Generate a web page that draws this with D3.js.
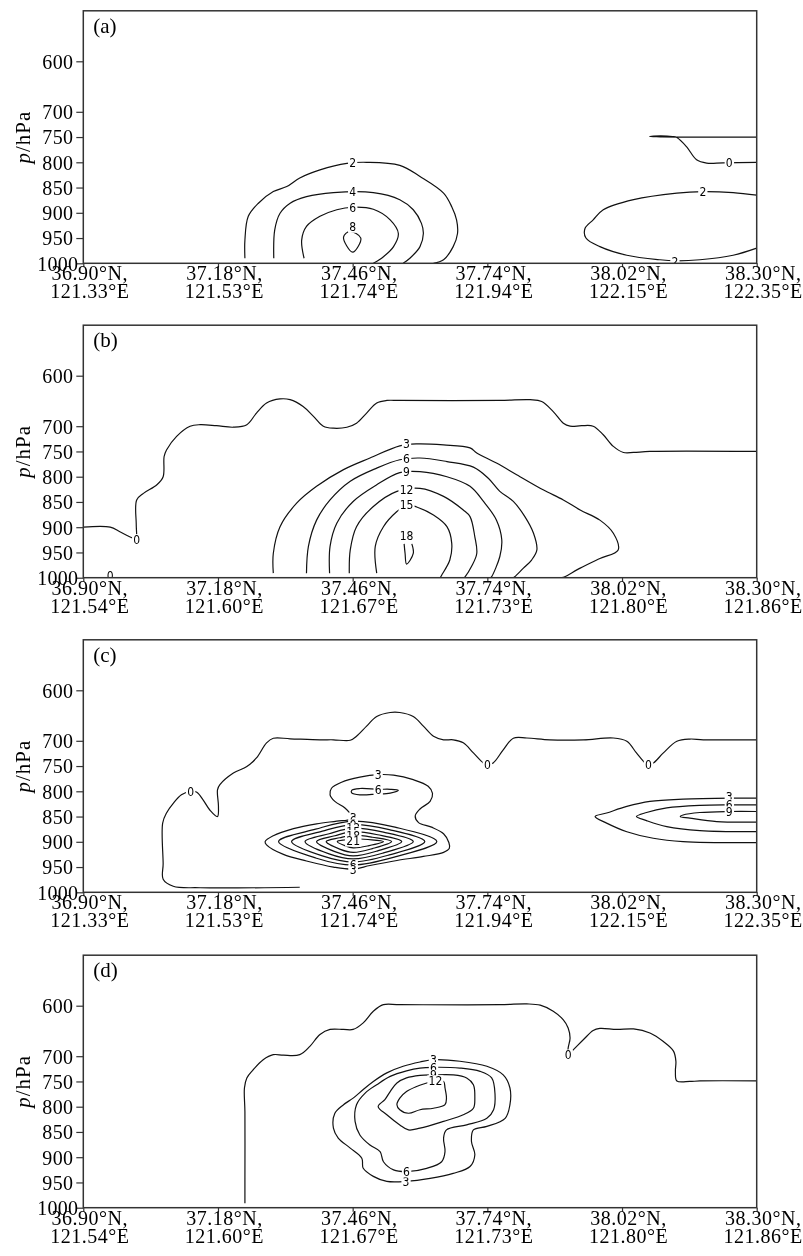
<!DOCTYPE html>
<html>
<head>
<meta charset="utf-8">
<script src="https://cdn.jsdelivr.net/npm/d3@7"></script>
<style>
  html, body { margin: 0; padding: 0; background: #fff; }
  svg { display: block; will-change: transform; }
  .serif { font-family: 'Liberation Serif', 'Times New Roman', serif; font-size: 20px; }
  .clab text { font-family: 'DejaVu Sans Condensed', 'Liberation Sans', sans-serif; font-size: 12px; }
</style>
</head>
<body>
<script>
// ---------------- DATA ----------------
const latTicks   = [36.90, 37.18, 37.46, 37.74, 38.02, 38.30];
const lonTicksAC = [121.33, 121.53, 121.74, 121.94, 122.15, 122.35];
const lonTicksBD = [121.54, 121.60, 121.67, 121.73, 121.80, 121.86];
const pTicks     = [600, 700, 750, 800, 850, 900, 950, 1000];
const panelNames = ['(a)', '(b)', '(c)', '(d)'];

// contour lines: [latitude °N, pressure hPa]
const contoursA = [
  {level: 2, pts: [[37.236,990],[37.236,954],[37.243,907],[37.264,881],[37.295,858],[37.323,848],[37.350,831],[37.392,815],[37.448,802],[37.489,800],[37.558,806],[37.600,828],[37.649,861],[37.666,888],[37.676,914],[37.678,941],[37.669,967],[37.649,993],[37.628,1000]]},
  {level: 4, pts: [[37.296,990],[37.298,934],[37.309,901],[37.330,881],[37.364,868],[37.420,860],[37.503,860],[37.558,874],[37.586,894],[37.603,921],[37.607,941],[37.600,967],[37.579,990],[37.565,1000]]},
  {level: 6, pts: [[37.359,990],[37.354,954],[37.364,927],[37.392,907],[37.427,894],[37.460,889],[37.503,893],[37.538,914],[37.555,941],[37.545,967],[37.524,987],[37.503,1000]]},
  {level: 8, closed: true, pts: [[37.441,948],[37.454,937],[37.477,950],[37.460,978]]},
  {level: 0, pts: [[38.300,750],[38.140,750],[38.100,749.5],[38.077,749],[38.100,747.5],[38.125,749],[38.134,751],[38.154,769],[38.175,795],[38.196,801.5],[38.230,801],[38.300,800]]},
  {level: 2, pts: [[38.300,865],[38.251,860],[38.188,858],[38.134,861],[38.044,874],[37.981,894],[37.960,914],[37.943,931],[37.945,950],[37.974,967],[38.030,984],[38.099,993],[38.130,995],[38.182,993],[38.251,984],[38.300,970]]}
];
const labelsA = [[37.460,800,'2'],[37.460,858,'4'],[37.460,889,'6'],[37.460,928,'8'],[38.243,800,'0'],[38.188,858,'2'],[38.130,996,'2']];

const contoursB = [
  {level: 0, pts: [[36.900,900],[36.956,900],[36.976,909],[37.001,921],[37.011,924],[37.011,916],[37.010,892],[37.011,846],[37.025,833],[37.053,816],[37.066,800],[37.068,760],[37.073,747],[37.094,720],[37.122,700],[37.143,697],[37.177,699],[37.212,702],[37.240,697],[37.260,674],[37.281,654],[37.309,646],[37.330,647.5],[37.357,661],[37.378,680],[37.399,700],[37.420,704],[37.448,702],[37.468,694],[37.489,674],[37.510,654],[37.531,649],[37.558,649],[37.766,649],[37.829,647.5],[37.853,651],[37.877,671],[37.898,694],[37.912,700],[37.936,699],[37.960,700],[37.981,717],[38.002,740],[38.023,752],[38.044,752],[38.078,750],[38.300,750]]},
  {level: 3, pts: [[37.295,991],[37.295,952],[37.309,899],[37.344,852],[37.385,819],[37.441,786],[37.496,763],[37.558,739],[37.593,735],[37.649,737],[37.704,743],[37.718,753],[37.759,773],[37.801,796],[37.856,826],[37.898,846],[37.933,866],[37.974,886],[38.002,912],[38.012,945],[37.974,962],[37.933,981],[37.901,998],[37.895,1000]]},
  {level: 6, pts: [[37.364,991],[37.368,938],[37.385,886],[37.413,846],[37.455,809],[37.510,783],[37.558,766.5],[37.600,763],[37.656,770],[37.711,781],[37.742,803],[37.766,829],[37.794,849],[37.818,879],[37.836,912],[37.843,945],[37.832,965],[37.815,981],[37.797,998],[37.794,1000]]},
  {level: 9, pts: [[37.412,991],[37.413,938],[37.427,892],[37.461,849],[37.510,816],[37.558,792],[37.600,790],[37.656,800],[37.704,819],[37.732,849],[37.759,886],[37.770,925],[37.766,958],[37.749,998],[37.747,1000]]},
  {level: 12, pts: [[37.453,991],[37.455,945],[37.468,899],[37.503,859],[37.552,829],[37.600,823],[37.649,839],[37.690,866],[37.704,879],[37.714,919],[37.718,952],[37.707,978],[37.694,998],[37.692,1000]]},
  {level: 15, pts: [[37.510,991],[37.507,938],[37.524,899],[37.552,869],[37.572,856],[37.593,860],[37.628,876],[37.656,899],[37.666,932],[37.662,965],[37.645,995],[37.642,1000]]},
  {level: 18, pts: [[37.567,933],[37.569,952],[37.572,973],[37.586,952],[37.583,933]]}
];
const labelsB = [[37.011,924,'0'],[36.956,995,'0'],[37.572,735,'3'],[37.572,765,'6'],[37.572,791,'9'],[37.572,826,'12'],[37.572,856,'15'],[37.572,917,'18']];

const contoursC = [
  {level: 0, pts: [[37.350,990],[37.143,991],[37.087,988],[37.066,974],[37.066,943],[37.065,863],[37.073,843],[37.087,824],[37.104,807],[37.123,800],[37.136,802],[37.149,817],[37.163,837],[37.179,850],[37.181,830],[37.179,797],[37.184,787],[37.212,764],[37.240,751],[37.260,734],[37.281,704],[37.295,695],[37.330,696],[37.392,698],[37.420,698],[37.455,699],[37.468,691],[37.489,671],[37.510,652],[37.538,644],[37.558,644],[37.586,652],[37.607,671],[37.628,691],[37.649,698],[37.669,698],[37.690,704],[37.711,724],[37.732,744],[37.740,747],[37.752,744],[37.773,718],[37.794,695],[37.822,694.5],[37.870,698],[37.940,698],[38.002,694.5],[38.030,701],[38.050,724],[38.068,744],[38.075,747],[38.085,744],[38.106,724],[38.134,701],[38.161,696.5],[38.189,698],[38.300,698]]},
  {level: 3, closed: true, pts: [[37.513,767],[37.545,768],[37.586,777],[37.617,790],[37.626,804],[37.621,820],[37.600,835],[37.590,849],[37.597,862],[37.624,871],[37.649,884],[37.660,901.5],[37.661,913],[37.649,921],[37.607,929],[37.552,937],[37.496,947],[37.461,954],[37.420,950],[37.364,938],[37.316,925],[37.281,906],[37.278,899.5],[37.295,888],[37.337,874],[37.385,864.5],[37.427,859],[37.455,855],[37.456,847],[37.444,833],[37.423,820],[37.413,807],[37.416,794],[37.437,782],[37.475,772]]},
  {level: 6, closed: true, pts: [[37.458,798],[37.475,794.5],[37.513,796],[37.538,796],[37.555,798],[37.538,803.5],[37.510,805.5],[37.475,807],[37.458,803]]},
  {level: 6, closed: true, pts: [[37.306,899.5],[37.383,875],[37.461,859],[37.548,871],[37.635,899.5],[37.548,930],[37.461,946],[37.383,932]]},
  {level: 9, closed: true, pts: [[37.333,899.5],[37.397,879],[37.461,866],[37.536,876],[37.610,899.5],[37.536,926],[37.461,940],[37.397,928]]},
  {level: 12, closed: true, pts: [[37.361,899.5],[37.411,884],[37.461,873],[37.524,881],[37.586,899.5],[37.524,922],[37.461,934],[37.411,924]]},
  {level: 15, closed: true, pts: [[37.385,899.5],[37.423,888],[37.461,880],[37.512,886],[37.562,899.5],[37.512,918],[37.461,928],[37.423,919.5]]},
  {level: 18, closed: true, pts: [[37.405,899.5],[37.433,892],[37.461,887],[37.501,891],[37.541,899.5],[37.501,913.5],[37.461,921],[37.433,914.5]]},
  {level: 21, closed: true, pts: [[37.428,899.5],[37.445,896],[37.461,894],[37.492,895.5],[37.524,899.5],[37.492,908],[37.461,912],[37.445,908]]},
  {level: 3, pts: [[38.300,813.6],[38.251,813.6],[38.147,815.5],[38.078,820],[38.030,830],[37.988,843],[37.964,850],[37.988,863],[38.030,880],[38.085,893],[38.147,899.5],[38.300,901.5]]},
  {level: 6, pts: [[38.300,827],[38.243,827],[38.182,828],[38.113,833],[38.071,842],[38.050,850],[38.071,858],[38.113,870],[38.182,878],[38.300,880]]},
  {level: 9, pts: [[38.300,840],[38.243,840],[38.182,842],[38.147,847],[38.141,850],[38.161,853],[38.217,860],[38.300,861]]}
];
const labelsC = [[37.123,800,'0'],[37.740,747,'0'],[38.075,747,'0'],[37.513,767,'3'],[37.513,796,'6'],
  [37.461,852,'3'],[37.461,859,'6'],[37.461,866,'9'],[37.461,873,'12'],[37.461,880,'15'],[37.461,887,'18'],[37.461,898,'21'],
  [37.461,946,'6'],[37.461,956,'3'],[38.243,810,'3'],[38.243,826,'6'],[38.243,840,'9']];

const contoursD = [
  {level: 0, pts: [[37.236,991],[37.236,942],[37.236,810],[37.235,763],[37.240,743],[37.253,727],[37.274,707],[37.295,697],[37.316,698],[37.350,697],[37.371,680.5],[37.392,657],[37.413,647],[37.441,647],[37.461,647],[37.482,634],[37.503,611],[37.524,598],[37.558,598],[37.766,598],[37.822,596.5],[37.850,599],[37.877,611],[37.898,628],[37.908,644],[37.912,664],[37.908,684],[37.908,697],[37.919,687],[37.940,667],[37.960,649],[37.974,645],[38.009,647],[38.044,646],[38.078,654],[38.106,671],[38.127,690],[38.132,710],[38.131,730],[38.134,749],[38.161,750],[38.182,749],[38.300,749]]},
  {level: 3, closed: true, pts: [[37.628,707],[37.683,710],[37.739,720],[37.773,737],[37.787,763],[37.787,796],[37.777,823],[37.739,839],[37.711,846],[37.707,869],[37.714,895],[37.704,918.5],[37.669,932],[37.621,942],[37.571,948],[37.531,948],[37.503,938],[37.482,922],[37.479,902],[37.455,882],[37.430,862],[37.420,842.5],[37.423,813],[37.441,796],[37.461,783],[37.482,766],[37.503,750],[37.531,733],[37.565,720],[37.600,711.5]]},
  {level: 6, closed: true, pts: [[37.628,722],[37.683,723.5],[37.725,730],[37.749,743],[37.756,776],[37.753,806],[37.739,823],[37.697,836],[37.655,846],[37.649,862],[37.652,889],[37.645,909],[37.614,922],[37.572,928.5],[37.545,925],[37.524,909],[37.517,889],[37.496,876],[37.475,856],[37.465,829],[37.468,796],[37.486,773],[37.510,756.5],[37.538,740],[37.572,729],[37.600,723.5]]},
  {level: 9, closed: true, pts: [[37.628,737],[37.669,737],[37.697,743],[37.711,756.5],[37.714,783],[37.711,803],[37.690,816],[37.649,829],[37.600,842.5],[37.576,846],[37.558,836],[37.531,816],[37.513,799.5],[37.527,786],[37.538,770],[37.552,753],[37.572,743],[37.600,738]]},
  {level: 12, closed: true, pts: [[37.630,748.6],[37.649,750],[37.652,763],[37.655,783],[37.652,796],[37.628,803],[37.600,806],[37.576,813],[37.558,806],[37.552,796],[37.558,783],[37.572,770],[37.593,760],[37.614,753]]}
];
const labelsD = [[37.908,697,'0'],[37.628,707,'3'],[37.628,722,'6'],[37.628,737,'9'],[37.632,748,'12'],[37.571,948,'3'],[37.572,928.5,'6']];

// ---------------- DRAW ----------------
const W = 803, H = 1256;
const svg = d3.select('body').append('svg').attr('width', W).attr('height', H);
const x = d3.scaleLinear().domain([latTicks[0], latTicks[latTicks.length - 1]]).range([83.3, 756.7]);

const panels = [
  {lon: lonTicksAC, contours: contoursA, labels: labelsA, bottom: 263.3},
  {lon: lonTicksBD, contours: contoursB, labels: labelsB, bottom: 577.7},
  {lon: lonTicksAC, contours: contoursC, labels: labelsC, bottom: 892.3},
  {lon: lonTicksBD, contours: contoursD, labels: labelsD, bottom: 1207.7}
];

panels.forEach((pn, i) => {
  const b = pn.bottom;
  const y = d3.scaleLinear().domain([1000, 500]).range([b, b - 252.5]);
  const x0 = x.range()[0], x1 = x.range()[1];
  const top = y(500);
  const g = svg.append('g');

  g.append('clipPath').attr('id', 'clip' + i)
    .append('rect').attr('x', x0).attr('y', top).attr('width', x1 - x0).attr('height', b - top);

  const plot = g.append('g').attr('clip-path', `url(#clip${i})`);
  const lineOpen = d3.line().x(d => x(d[0])).y(d => y(d[1])).curve(d3.curveCatmullRom.alpha(0.5));
  const lineClosed = d3.line().x(d => x(d[0])).y(d => y(d[1])).curve(d3.curveCatmullRomClosed.alpha(0.5));

  plot.selectAll('path.contour').data(pn.contours).join('path')
    .attr('class', 'contour')
    .attr('d', c => (c.closed ? lineClosed : lineOpen)(c.pts))
    .attr('fill', 'none').attr('stroke', '#111').attr('stroke-width', 1.2)
    .attr('stroke-linejoin', 'round');

  // contour labels with white boxes that break the lines
  const lab = plot.selectAll('g.clab').data(pn.labels).join('g')
    .attr('class', 'clab')
    .attr('transform', d => `translate(${x(d[0])},${y(d[1])})`);
  lab.append('rect').attr('fill', '#fff');
  const tx = lab.append('text').attr('text-anchor', 'middle').attr('dy', '0.36em')
    .attr('fill', '#000').text(d => d[2]);
  tx.each(function () {
    const bb = this.getBBox();
    d3.select(this.previousSibling)
      .attr('x', bb.x - 1.2).attr('y', bb.y + 1.5)
      .attr('width', bb.width + 2.4).attr('height', bb.height - 3);
  });

  // frame
  g.append('rect').attr('x', x0).attr('y', top).attr('width', x1 - x0).attr('height', b - top)
    .attr('fill', 'none').attr('stroke', '#333').attr('stroke-width', 1.5);

  // y axis
  const ga = g.append('g').attr('transform', `translate(${x0},0)`)
    .call(d3.axisLeft(y).tickValues(pTicks).tickSize(7).tickSizeOuter(0).tickFormat(d3.format('d')));
  ga.select('.domain').remove();
  ga.attr('font-family', null).attr('font-size', null);
  ga.selectAll('.tick line').attr('stroke', '#333').attr('stroke-width', 1.2);
  ga.selectAll('.tick text').attr('class', 'serif').attr('x', -25.5).attr('text-anchor', 'middle').attr('dy', '0.34em')
    .style('letter-spacing', '0.3px').attr('fill', '#000');

  // x axis
  const gx = g.append('g').attr('transform', `translate(0,${b})`)
    .call(d3.axisBottom(x).tickValues(latTicks).tickSize(4).tickSizeOuter(0).tickFormat(d => d.toFixed(2) + '°N,'));
  gx.select('.domain').remove();
  gx.attr('font-family', null).attr('font-size', null);
  gx.selectAll('.tick line').attr('stroke', '#333').attr('stroke-width', 1.2);
  gx.selectAll('.tick text').attr('class', 'serif').attr('y', 17).attr('dy', null).attr('x', 6)
    .style('letter-spacing', '0.5px').attr('fill', '#000');
  gx.selectAll('.tick').append('text').attr('class', 'serif')
    .attr('y', 35).attr('x', 6).attr('text-anchor', 'middle').attr('fill', '#000')
    .style('letter-spacing', '0.5px')
    .text((d, j) => pn.lon[j].toFixed(2) + '°E');

  // panel letter
  g.append('text').attr('class', 'serif').attr('x', x0 + 10).attr('y', top + 22)
    .style('font-size', '21px').attr('fill', '#000').text(panelNames[i]);

  // y title
  const yt = g.append('text').attr('class', 'serif')
    .attr('transform', `translate(23,${(top + b) / 2}) rotate(-90)`)
    .attr('text-anchor', 'middle').attr('dy', '0.35em').attr('fill', '#000')
    .style('font-size', '21px').style('letter-spacing', '1px');
  yt.append('tspan').style('font-style', 'italic').text('p');
  yt.append('tspan').text('/hPa');
});
</script>
</body>
</html>
